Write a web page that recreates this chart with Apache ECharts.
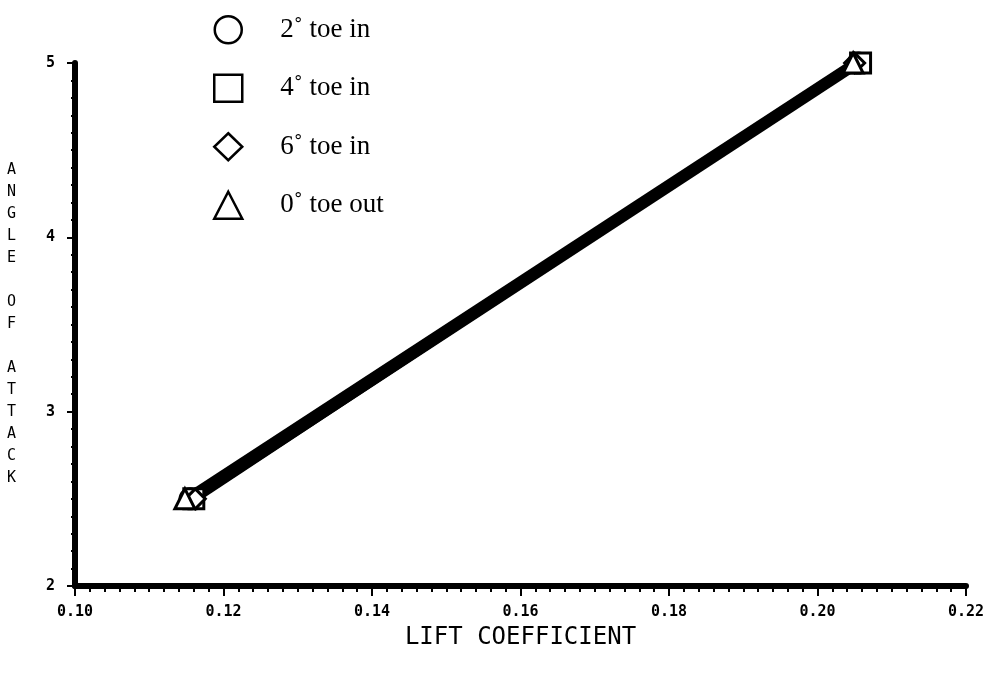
<!DOCTYPE html>
<html>
<head>
    <meta charset="utf-8">
    <title>lift</title>
</head>
<body style="margin:0">
<div id="main" style="width: 994px;height:682px;"></div>

<script src="https://cdn.jsdelivr.net/npm/echarts@6/dist/echarts.min.js"></script>
<script type="text/javascript">
// data
var seriesNames = ['2\u02da toe in', '4\u02da toe in', '6\u02da toe in', '0\u02da toe out'];
var symbols = ['circle', 'rect', 'diamond', 'triangle'];
var toe2in = [[0.1155, 2.5], [0.2055, 5.0]];
var toe4in = [[0.1160, 2.5], [0.2058, 5.0]];
var toe6in = [[0.1162, 2.5], [0.2050, 5.0]];
var toe0out = [[0.1148, 2.5], [0.2048, 5.0]];
var allData = [toe2in, toe4in, toe6in, toe0out];

var myChart = echarts.init(document.getElementById('main'));

var tickFont = {
    fontFamily: 'DejaVu Sans Mono',
    fontWeight: 'bold',
    fontSize: 15,
    color: '#000'
};

var series = [];
for (var i = 0; i < allData.length; i++) {
    series.push({
        name: seriesNames[i],
        type: 'line',
        data: allData[i],
        symbol: symbols[i],
        symbolSize: 20,
        lineStyle: { color: '#000', width: 8 },
        itemStyle: { color: '#fff', borderColor: '#000', borderWidth: 3 },
        z: 2
    });
}

var option = {
    animation: false,
    backgroundColor: '#fff',
    grid: { left: 75, right: 28, top: 63, bottom: 96 },
    legend: {
        orient: 'vertical',
        left: 208,
        top: 10,
        itemGap: 29,
        itemWidth: 28,
        itemHeight: 27,
        data: seriesNames.map(function (n, i) {
            return { name: n, icon: symbols[i] };
        }),
        itemStyle: { color: '#fff', borderColor: '#000', borderWidth: 2.5 },
        textStyle: {
            fontFamily: 'Liberation Serif',
            fontSize: 27,
            color: '#000',
            padding: [0, 0, 0, 33]
        }
    },
    xAxis: {
        type: 'value',
        min: 0.10,
        max: 0.22,
        interval: 0.02,
        name: 'LIFT COEFFICIENT',
        nameLocation: 'middle',
        nameGap: 40,
        nameTextStyle: {
            fontFamily: 'DejaVu Sans Mono',
            fontSize: 24,
            color: '#000'
        },
        axisLine: { lineStyle: { color: '#000', width: 6 } },
        axisTick: { length: 10, lineStyle: { color: '#000', width: 2 } },
        minorTick: { show: true, splitNumber: 10, length: 6, lineStyle: { color: '#000', width: 2 } },
        splitLine: { show: false },
        axisLabel: Object.assign({ margin: 19, formatter: function (v) { return v.toFixed(2); } }, tickFont)
    },
    yAxis: {
        type: 'value',
        min: 2,
        max: 5,
        interval: 1,
        name: 'A\nN\nG\nL\nE\n\nO\nF\n\nA\nT\nT\nA\nC\nK',
        nameLocation: 'middle',
        nameGap: 59,
        nameRotate: 0,
        nameTextStyle: {
            fontFamily: 'DejaVu Sans Mono',
            fontSize: 15,
            lineHeight: 22,
            color: '#000'
        },
        axisLine: { lineStyle: { color: '#000', width: 6 } },
        axisTick: { length: 8, lineStyle: { color: '#000', width: 2 } },
        minorTick: { show: true, splitNumber: 10, length: 4, lineStyle: { color: '#000', width: 2 } },
        splitLine: { show: false },
        axisLabel: Object.assign({ margin: 20 }, tickFont)
    },
    series: series
};

myChart.setOption(option);
</script>
</body>
</html>
